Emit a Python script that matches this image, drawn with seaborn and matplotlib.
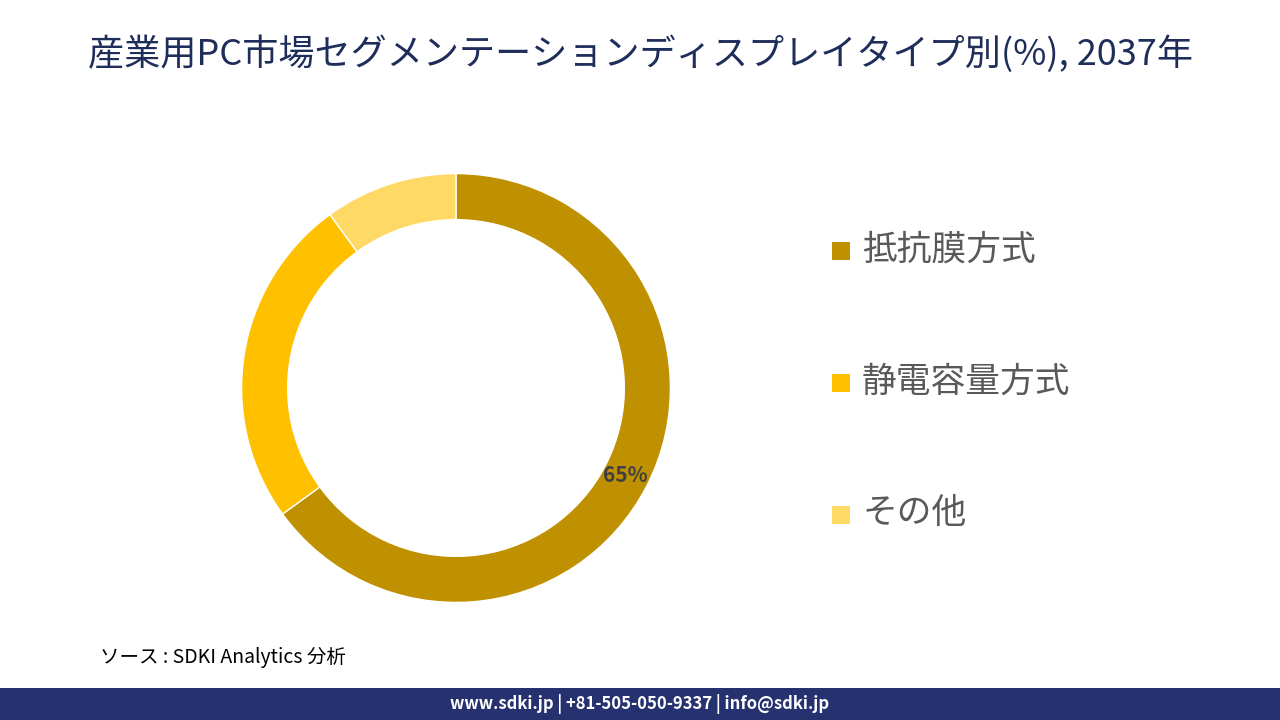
import matplotlib
matplotlib.use("Agg")
import matplotlib.pyplot as plt
import seaborn as sns
from matplotlib.patches import Rectangle

sns.set_theme(style="white")
plt.rcParams["font.family"] = "Noto Sans CJK JP"

categories = ["抵抗膜方式", "静電容量方式", "その他"]
values = [65, 25, 10]
colors = ["#BF9000", "#FFC000", "#FFD966"]
title = "産業用PC市場セグメンテーションディスプレイタイプ別(%), 2037年"

fig = plt.figure(figsize=(12.8, 7.2), dpi=100)
fig.patch.set_facecolor("white")
fig.text(0.5, 0.925, title, ha="center", va="center", fontsize=26, color="#1F2D5A")

w = 0.392
ax = fig.add_axes([456/1280 - w/2, 1 - 388/720 - (w/2)*1280/720, w, w*1280/720])
ax.set_aspect("equal")
ax.pie(values, colors=colors, startangle=90, counterclock=False,
       radius=1.0, wedgeprops=dict(width=0.215, edgecolor="white", linewidth=1))
ax.set_xlim(-1.17, 1.17); ax.set_ylim(-1.17, 1.17)
ax.text(0.79, -0.41, f"{values[0]}%", ha="center", va="center", fontsize=15,
        fontweight="bold", color="#404040")
ax.axis("off")

for i, (c, col) in enumerate(zip(categories, colors)):
    y = 1 - (250 + i*132)/720
    fig.patches.append(Rectangle((832/1280, y - 0.014), 18/1280, 18/720, transform=fig.transFigure,
                                 facecolor=col, edgecolor="none"))
    fig.text(862/1280, y, c, ha="left", va="center", fontsize=25, color="#595959")

fig.text(100/1280, 1 - 658/720, "ソース : SDKI Analytics 分析", ha="left", va="center",
         fontsize=14, color="black")
fig.patches.append(Rectangle((0, 0), 1, 32/720, transform=fig.transFigure,
                             facecolor="#263270", edgecolor="none"))
fig.text(0.5, 16/720, "www.sdki.jp | +81-505-050-9337 | info@sdki.jp", ha="center",
         va="center", fontsize=12, fontweight="bold", color="white")
fig.savefig("out.png", dpi=100)
